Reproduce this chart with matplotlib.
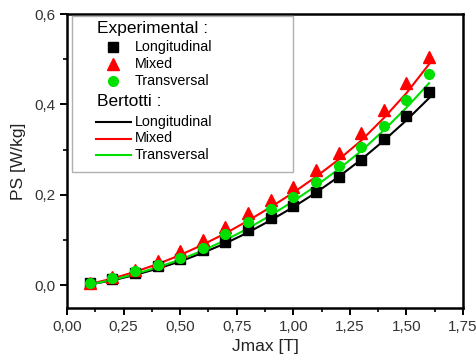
import matplotlib
matplotlib.use("Agg")
import matplotlib.pyplot as plt
from matplotlib.patches import Rectangle
from matplotlib.ticker import MultipleLocator, FuncFormatter

plt.rcParams['font.family'] = ['Liberation Sans', 'DejaVu Sans']

# Peak polarisation (T)
jmax = [0.1, 0.2, 0.3, 0.4, 0.5, 0.6, 0.7, 0.8, 0.9, 1.0, 1.1, 1.2, 1.3, 1.4, 1.5, 1.6]

# Measured losses PS [W/kg]
exp_longitudinal = [0.005, 0.015, 0.028, 0.042, 0.058, 0.078, 0.097, 0.122, 0.148, 0.175,
                    0.206, 0.239, 0.277, 0.323, 0.374, 0.427]
exp_mixed = [0.005, 0.018, 0.035, 0.053, 0.077, 0.100, 0.128, 0.160, 0.188, 0.217,
             0.255, 0.293, 0.336, 0.387, 0.447, 0.505]
exp_transversal = [0.005, 0.016, 0.031, 0.046, 0.061, 0.082, 0.113, 0.140, 0.168, 0.195,
                   0.228, 0.263, 0.305, 0.352, 0.410, 0.467]

# Bertotti model losses PS [W/kg]
bert_longitudinal = [0.002, 0.011, 0.023, 0.037, 0.053, 0.072, 0.093, 0.117, 0.144, 0.173,
                     0.205, 0.240, 0.278, 0.320, 0.365, 0.414]
bert_mixed = [0.003, 0.015, 0.030, 0.047, 0.067, 0.090, 0.115, 0.143, 0.173, 0.205,
              0.240, 0.278, 0.320, 0.370, 0.425, 0.489]
bert_transversal = [0.002, 0.012, 0.025, 0.040, 0.057, 0.077, 0.100, 0.126, 0.155, 0.186,
                    0.220, 0.257, 0.297, 0.343, 0.393, 0.447]

labels = ["Longitudinal", "Mixed", "Transversal"]
colors = ["black", "#ff0000", "#00e000"]
markers = ["s", "^", "o"]
msizes = [6.5, 8, 7]

fig = plt.figure(figsize=(4.77, 3.64), dpi=100)
ax = fig.add_axes([67 / 477, 56 / 364, 396 / 477, 294 / 364])

for y, c in zip([bert_longitudinal, bert_mixed, bert_transversal], colors):
    ax.plot(jmax, y, color=c, lw=1.5, zorder=2)
for y, c, m, s in zip([exp_longitudinal, exp_mixed, exp_transversal], colors, markers, msizes):
    ax.plot(jmax, y, ls="none", marker=m, color=c, ms=s, zorder=3)

ax.set_xlim(0, 1.75)
ax.set_ylim(-0.05, 0.6)
ax.xaxis.set_major_locator(MultipleLocator(0.25))
ax.xaxis.set_minor_locator(MultipleLocator(0.125))
ax.yaxis.set_major_locator(MultipleLocator(0.2))
ax.yaxis.set_minor_locator(MultipleLocator(0.1))
ax.xaxis.set_major_formatter(FuncFormatter(lambda v, p: f"{v:.2f}".replace(".", ",")))
ax.yaxis.set_major_formatter(FuncFormatter(lambda v, p: f"{v:.1f}".replace(".", ",")))
ax.tick_params(which="major", direction="out", length=5, width=1.4, labelsize=11, colors="black")
ax.tick_params(which="minor", direction="out", length=3, width=1.2)
ax.tick_params(axis="both", labelcolor="#333333")
for sp in ax.spines.values():
    sp.set_linewidth(1.8)

ax.set_xlabel("Jmax [T]", fontsize=12.5, color="#222222", labelpad=4)
ax.set_ylabel("PS [W/kg]", fontsize=12.5, color="#222222", labelpad=6)

# Two-section key drawn in axes coordinates
tr = ax.transAxes
def fx(px):
    return (px - 67) / 396
def fy(py):
    return (308 - py) / 294

ax.add_patch(Rectangle((fx(72), fy(172)), fx(293) - fx(72), fy(16) - fy(172),
                       transform=tr, fill=False, ec="#b0b0b0", lw=1.0, zorder=4))
ax.text(fx(97), fy(28), "Experimental :", transform=tr, fontsize=12.5, va="center", ha="left", zorder=5)
for i, (lab, c, m, s) in enumerate(zip(labels, colors, markers, msizes)):
    yy = fy(47 + 17 * i)
    ax.plot([fx(113)], [yy], transform=tr, ls="none", marker=m, color=c, ms=s, clip_on=False, zorder=5)
    ax.text(fx(135), yy, lab, transform=tr, fontsize=10.3, va="center", ha="left", zorder=5)
ax.text(fx(97), fy(102), "Bertotti :", transform=tr, fontsize=12.5, va="center", ha="left", zorder=5)
for i, (lab, c) in enumerate(zip(labels, colors)):
    yy = fy(122 + 16.5 * i)
    ax.plot([fx(96), fx(131)], [yy, yy], transform=tr, color=c, lw=1.5, clip_on=False, zorder=5)
    ax.text(fx(135), yy, lab, transform=tr, fontsize=10.3, va="center", ha="left", zorder=5)

fig.savefig("out.png", dpi=100)
